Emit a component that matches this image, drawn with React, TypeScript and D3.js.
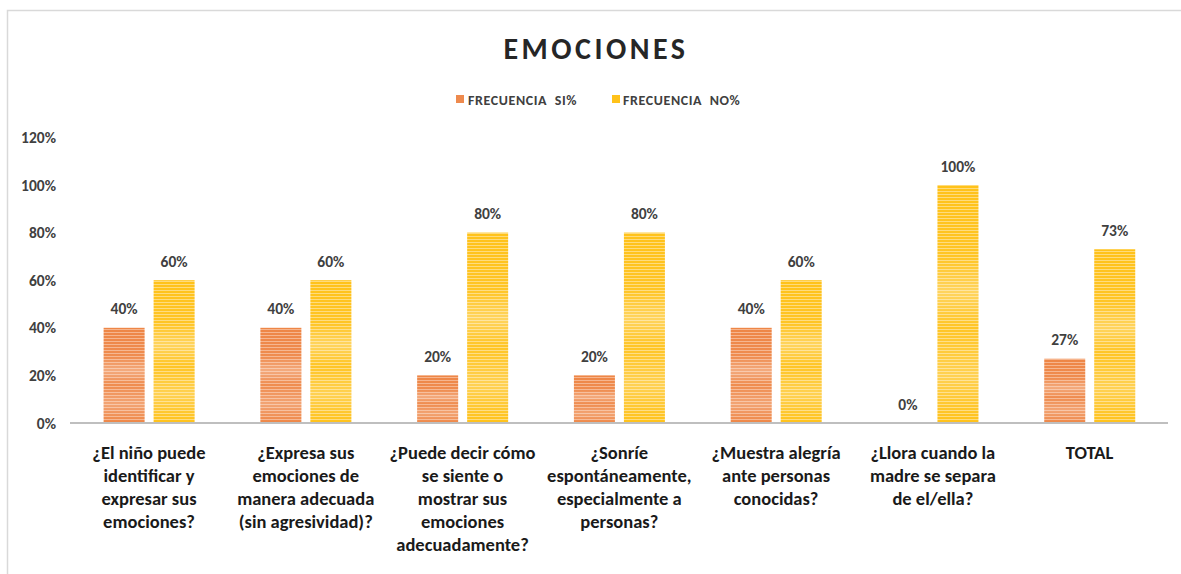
import React from "react";
import * as d3 from "d3";

// categorías (líneas ya partidas como en el original)
const categories: string[][] = [
  ["¿El niño puede", "identificar y", "expresar sus", "emociones?"],
  ["¿Expresa sus", "emociones de", "manera adecuada", "(sin agresividad)?"],
  ["¿Puede decir cómo", "se siente o", "mostrar sus", "emociones", "adecuadamente?"],
  ["¿Sonríe", "espontáneamente,", "especialmente a", "personas?"],
  ["¿Muestra alegría", "ante personas", "conocidas?"],
  ["¿Llora cuando la", "madre se separa", "de el/ella?"],
  ["TOTAL"],
];
const siValues = [40, 40, 20, 20, 40, 0, 27];
const noValues = [60, 60, 80, 80, 60, 100, 73];
const yTicks = [0, 20, 40, 60, 80, 100, 120];
const seriesNames = ["FRECUENCIA  SI%", "FRECUENCIA  NO%"];

const W = 1181;
const H = 574;
const FONT = "Carlito, Calibri, Lato, 'Open Sans', sans-serif";

const App: React.FC = () => {
  const x = d3.scaleBand<number>().domain(d3.range(categories.length)).range([70.6, 1168]);
  const sub = d3.scaleBand<string>().domain(["si", "no"]).range([33, 124]).paddingInner(0.18);
  const y = d3.scaleLinear().domain([0, 120]).range([423, 137.4]);

  const series = [
    { key: "si", values: siValues, fill: "url(#stripeOrange)" },
    { key: "no", values: noValues, fill: "url(#stripeYellow)" },
  ];

  return (
    <svg
      width={W}
      height={H}
      style={{ position: "absolute", left: 0, top: 0, background: "#fff" }}
      fontFamily={FONT}
    >
      <defs>
        <pattern id="stripeOrange" width="6" height="3" patternUnits="userSpaceOnUse">
          <rect width="6" height="3" fill="#EE8646" />
          <rect y="2" width="6" height="1" fill="#F6B48C" />
        </pattern>
        <pattern id="stripeYellow" width="6" height="3" patternUnits="userSpaceOnUse">
          <rect width="6" height="3" fill="#FFC21A" />
          <rect y="2" width="6" height="1" fill="#FFDB7A" />
        </pattern>
        <linearGradient id="sheen" x1="0" y1="0" x2="0" y2="1">
          <stop offset="0" stopColor="#fff" stopOpacity="0" />
          <stop offset="0.3" stopColor="#fff" stopOpacity="0.05" />
          <stop offset="0.45" stopColor="#fff" stopOpacity="0.3" />
          <stop offset="0.6" stopColor="#fff" stopOpacity="0.05" />
          <stop offset="0.8" stopColor="#fff" stopOpacity="0.25" />
          <stop offset="1" stopColor="#fff" stopOpacity="0" />
        </linearGradient>
      </defs>

      {/* marco */}
      <rect x={7.5} y={10.5} width={W} height={H} fill="none" stroke="#d9d9d9" strokeWidth={1.5} />

      {/* título */}
      <text
        x={596}
        y={59}
        textAnchor="middle"
        fontSize={30}
        fontWeight="bold"
        letterSpacing={3.5}
        fill="#262626"
      >
        EMOCIONES
      </text>

      {/* leyenda */}
      <g fontSize={14} fontWeight="bold" fill="#404040" letterSpacing={0.6}>
        <rect x={456} y={95} width={8} height={8} fill="#EE8A4E" />
        <text x={468} y={104.5} style={{ whiteSpace: "pre" }}>{seriesNames[0]}</text>
        <rect x={612} y={95} width={8} height={8} fill="#FFC21A" />
        <text x={623} y={104.5} style={{ whiteSpace: "pre" }}>{seriesNames[1]}</text>
      </g>

      {/* eje y */}
      <g fontSize={15.5} fontWeight="bold" fill="#404040" textAnchor="end">
        {yTicks.map((t) => (
          <text key={t} x={56} y={y(t) + 5.5}>
            {t}%
          </text>
        ))}
      </g>

      {/* barras */}
      {series.map((s) => (
        <g key={s.key}>
          {s.values.map((v, i) => {
            const bx = x(i)! + sub(s.key)!;
            const by = y(v);
            const bh = y(0) - by;
            return (
              <g key={i}>
                {bh > 0 && (
                  <>
                    <rect x={bx} y={by} width={sub.bandwidth()} height={bh} fill={s.fill} />
                    <rect x={bx} y={by} width={sub.bandwidth()} height={bh} fill="url(#sheen)" />
                  </>
                )}
                <text
                  x={bx + sub.bandwidth() / 2}
                  y={by - 13.5}
                  textAnchor="middle"
                  fontSize={15.5}
                  fontWeight="bold"
                  fill="#404040"
                >
                  {v}%
                </text>
              </g>
            );
          })}
        </g>
      ))}

      {/* línea base */}
      <line x1={70} x2={1168} y1={y(0)} y2={y(0)} stroke="#bfbfbf" strokeWidth={2} />

      {/* categorías */}
      <g fontSize={18.5} fontWeight="bold" fill="#1a1a1a" textAnchor="middle">
        {categories.map((lines, i) => (
          <text key={i} x={x(i)! + x.bandwidth() / 2} y={458.5}>
            {lines.map((l, j) => (
              <tspan key={j} x={x(i)! + x.bandwidth() / 2} dy={j === 0 ? 0 : 23.2}>
                {l}
              </tspan>
            ))}
          </text>
        ))}
      </g>
    </svg>
  );
};

export default App;
